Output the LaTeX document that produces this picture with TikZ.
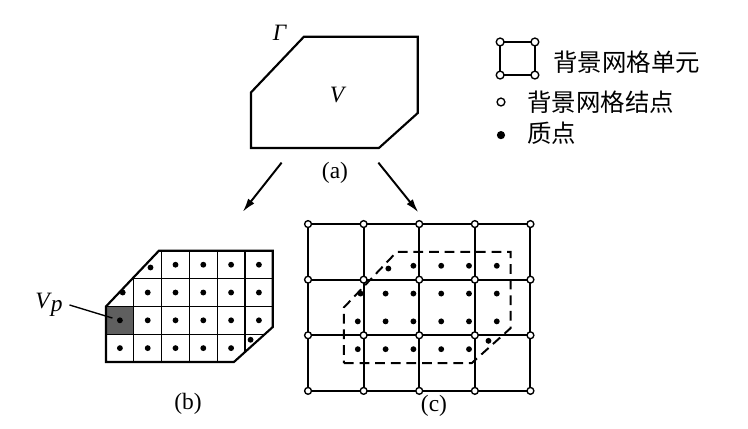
\documentclass[tikz,border=0pt]{standalone}
\usepackage{fontspec}
\setmainfont{Liberation Serif}
\newfontfamily\cjk{Noto Sans CJK SC}
\usetikzlibrary{arrows.meta,positioning}
\definecolor{CellGray}{RGB}{95,95,95}

\begin{document}
\begin{tikzpicture}[x=0.5cm,y=0.5cm,
    font=\fontsize{12}{14}\selectfont,
    outline/.style={line width=1.1pt,line join=miter},
    meshline/.style={line width=0.7pt},
    gridline/.style={line width=1pt},
    dashline/.style={line width=1pt,dash pattern=on 5pt off 3pt},
    gnode/.style={circle,draw,fill=white,line width=0.7pt,inner sep=0pt,minimum size=3.5pt},
    arr/.style={-{Latex[length=7pt,width=4pt]},line width=1pt}]

    \useasboundingbox (0,0) rectangle (26.906,-15.396);

    % Body outline, lower left corner at (0,0), one mesh cell = 1
    \def\body{(0,0) -- (4.6,0) -- (6,1.26) -- (6,4) -- (1.9,4) -- (0,2) -- cycle}

    % Particles: cell centres, plus the three cut cells
    \def\particles{0.5/0.5,1.5/0.5,2.5/0.5,3.5/0.5,4.5/0.5,5.2/0.8,
        0.5/1.5,1.5/1.5,2.5/1.5,3.5/1.5,4.5/1.5,5.5/1.5,
        0.6/2.5,1.5/2.5,2.5/2.5,3.5/2.5,4.5/2.5,5.5/2.5,
        1.6/3.4,2.5/3.5,3.5/3.5,4.5/3.5,5.5/3.5}

    % (a) continuum body
    \begin{scope}[shift={(9.029,-5.324)}]
        \draw[outline] \body;
    \end{scope}
    \node (gamma) at (10.07,-1.19) {\textit{Γ}};
    \node (vol) at (12.16,-3.42) {\textit{V}};
    \node (lbla) at (12.05,-6.22) {(a)};

    % Arrows down to (b) and (c)
    \coordinate (al) at (10.13,-5.85);
    \coordinate (bl) at (8.73,-7.62);
    \coordinate (ar) at (13.61,-5.85);
    \coordinate (cr) at (15.05,-7.64);
    \draw[arr] (al) -- (bl);
    \draw[arr] (ar) -- (cr);

    % (b) body split into particle cells
    \begin{scope}[shift={(3.813,-13.022)}]
        \begin{scope}
            \clip \body;
            \fill[CellGray] (0,1) rectangle (1,2);
            \draw[meshline] (0,0) grid[step=1] (6,4);
        \end{scope}
        \draw[outline] \body;
        \foreach \x/\y in \particles {
            \fill (\x,\y) circle (1.5pt);
        }
        \coordinate (vpdot) at (0.5,1.5);
    \end{scope}
    \node (vp) at (1.76,-10.97) {\textit{V}\kern-0.5pt\raisebox{-0.3ex}{\textit{p}}};
    \draw[line width=0.7pt,shorten >=4pt] (vp.east) -- (vpdot);
    \node (lblb) at (6.76,-14.53) {(b)};

    % (c) particles on the background grid
    \begin{scope}[shift={(11.08,-14.06)}]
        \draw[gridline] (0,0) grid[step=2] (8,6);
        \begin{scope}[shift={(1.29,1.0)}]
            \draw[dashline] \body;
            \foreach \x/\y in \particles {
                \fill (\x,\y) circle (1.5pt);
            }
        \end{scope}
        \foreach \i in {0,...,4} {
            \foreach \j in {0,...,3} {
                \node[gnode] (g-\i-\j) at (2*\i,2*\j) {};
            }
        }
    \end{scope}
    \node (lblc) at (15.61,-14.6) {(c)};

    % Legend
    \draw[line width=0.9pt] (17.99,-1.51) rectangle (19.24,-2.70);
    \node[gnode,minimum size=4pt] (sq1) at (17.99,-1.51) {};
    \node[gnode,minimum size=4pt] (sq2) at (19.24,-1.51) {};
    \node[gnode,minimum size=4pt] (sq3) at (17.99,-2.70) {};
    \node[gnode,minimum size=4pt] (sq4) at (19.24,-2.70) {};
    \node[anchor=west,inner sep=0pt,font=\cjk\fontsize{12.5}{14}\selectfont] (cell) at (19.89,-2.23) {背景网格单元};

    \node[gnode,minimum size=4pt] (gn) at (18.02,-3.67) {};
    \node[anchor=west,inner sep=0pt,font=\cjk\fontsize{12.5}{14}\selectfont] (gntext) at (18.96,-3.67) {背景网格结点};

    \node[circle,fill=black,inner sep=0pt,minimum size=4.2pt] (mp) at (18.02,-4.86) {};
    \node[anchor=west,inner sep=0pt,font=\cjk\fontsize{12.5}{14}\selectfont] (mptext) at (18.96,-4.78) {质点};
\end{tikzpicture}
\end{document}
